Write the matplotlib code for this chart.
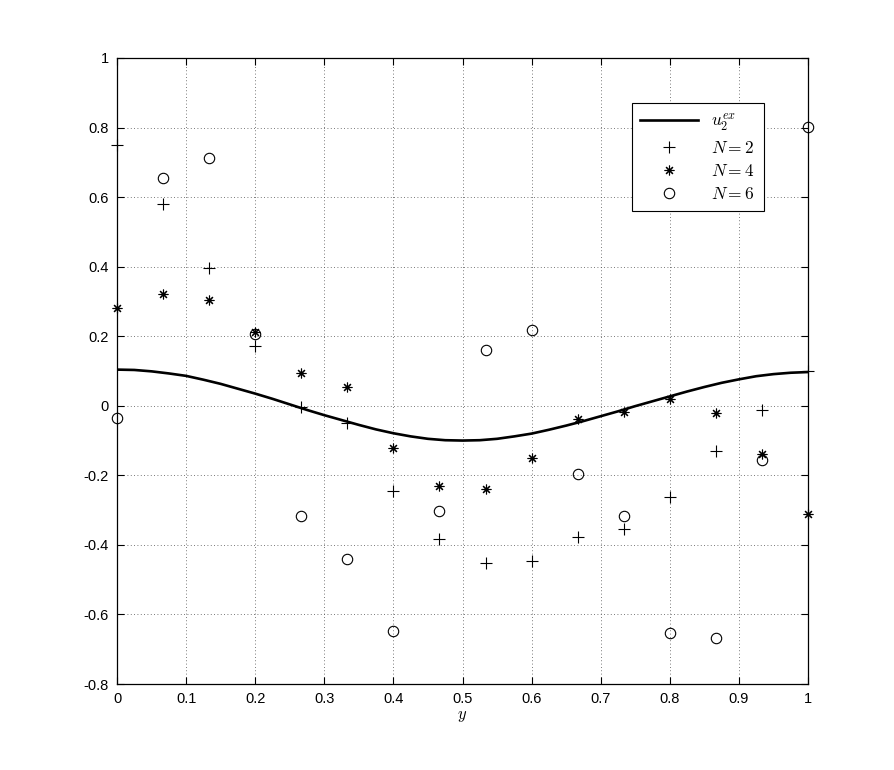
import numpy as np
import matplotlib
matplotlib.use("Agg")
import matplotlib.pyplot as plt

plt.rcParams["mathtext.fontset"] = "cm"
plt.rcParams["font.family"] = ["Liberation Sans", "DejaVu Sans"]

# sample points y_k = k/15
k = np.arange(16)
y_pts = k / 15.0

# N = 2 ("+")
n2 = [0.75, 0.58, 0.395, 0.172, -0.003, -0.05, -0.245, -0.382,
      -0.452, -0.447, -0.376, -0.353, -0.262, -0.13, -0.012, 0.10]
# N = 4 ("*")
n4 = [0.282, 0.32, 0.305, 0.213, 0.093, 0.053, -0.12, -0.232,
      -0.238, -0.151, -0.038, -0.017, 0.02, -0.02, -0.138, -0.31]
# N = 6 ("o")
n6 = [-0.035, 0.655, 0.712, 0.205, -0.316, -0.44, -0.648, -0.302,
      0.16, 0.218, -0.195, -0.316, -0.652, -0.668, -0.155, 0.803]

# exact solution u_2^ex, every 0.025
y_ex = [0.0, 0.025, 0.05, 0.075, 0.1, 0.125, 0.15, 0.175, 0.2, 0.225,
        0.25, 0.275, 0.3, 0.325, 0.35, 0.375, 0.4, 0.425, 0.45, 0.475,
        0.5, 0.525, 0.55, 0.575, 0.6, 0.625, 0.65, 0.675, 0.7, 0.725,
        0.75, 0.775, 0.8, 0.825, 0.85, 0.875, 0.9, 0.925, 0.95, 0.975, 1.0]
u_ex = [0.104, 0.103, 0.099, 0.093, 0.086, 0.075, 0.063, 0.049, 0.035, 0.020,
        0.004, -0.012, -0.027, -0.041, -0.055, -0.068, -0.079, -0.088, -0.095, -0.099,
        -0.100, -0.099, -0.095, -0.088, -0.080, -0.069, -0.057, -0.044, -0.030, -0.016,
        -0.001, 0.013, 0.027, 0.041, 0.054, 0.066, 0.076, 0.085, 0.091, 0.095, 0.097]

xticks = [0, 0.1, 0.2, 0.3, 0.4, 0.5, 0.6, 0.7, 0.8, 0.9, 1]
xtick_labels = ["0", "0.1", "0.2", "0.3", "0.4", "0.5", "0.6", "0.7", "0.8", "0.9", "1"]
yticks = [-0.8, -0.6, -0.4, -0.2, 0, 0.2, 0.4, 0.6, 0.8, 1]
ytick_labels = ["-0.8", "-0.6", "-0.4", "-0.2", "0", "0.2", "0.4", "0.6", "0.8", "1"]

fig = plt.figure(figsize=(8.94, 7.70), dpi=100)
ax = fig.add_axes([117 / 894, 1 - 684 / 770, 691 / 894, 626 / 770])

ax.plot(y_ex, u_ex, color="black", lw=1.9, label=r"$u_2^{ex}$")
ax.plot(y_pts, n2, ls="none", marker="+", ms=8, mew=0.8, color="black",
        label=r"$N=2$", clip_on=False)
ax.plot(y_pts, n4, ls="none", marker=(8, 2, 0), ms=7, mew=0.8, color="black",
        label=r"$N=4$", clip_on=False)
ax.plot(y_pts, n6, ls="none", marker="o", ms=7.5, mew=0.8, mfc="none",
        mec="black", label=r"$N=6$", clip_on=False)

ax.set_xlim(0, 1)
ax.set_ylim(-0.8, 1)
ax.set_xticks(xticks)
ax.set_xticklabels(xtick_labels)
ax.set_yticks(yticks)
ax.set_yticklabels(ytick_labels)
ax.tick_params(direction="in", length=5, width=0.8, top=True, right=True,
               labelsize=10.5, pad=6)
for s in ax.spines.values():
    s.set_linewidth(0.9)

ax.grid(True, linestyle=(0, (1, 3)), color="0.3", lw=0.6)
ax.set_axisbelow(True)

ax.set_xlabel(r"$y$", fontsize=12, labelpad=2)

leg = ax.legend(loc="upper right", bbox_to_anchor=(0.936, 0.928),
                borderaxespad=0, fancybox=False, framealpha=1,
                edgecolor="black", fontsize=12.5, handlelength=3.3,
                labelspacing=0.4, borderpad=0.5)
leg.get_frame().set_linewidth(0.8)

fig.savefig("out.png", dpi=100)
